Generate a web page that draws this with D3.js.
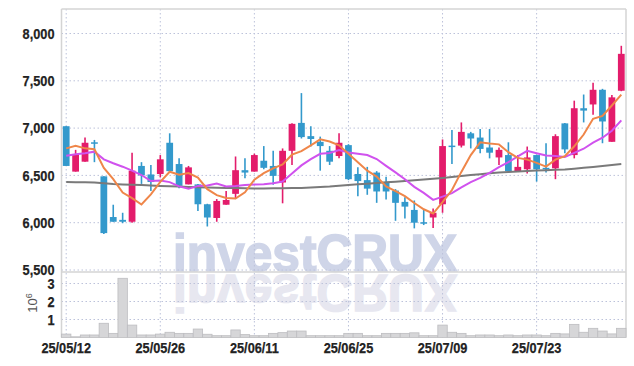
<!DOCTYPE html>
<html>
<head>
<meta charset="utf-8">
<script src="https://cdn.jsdelivr.net/npm/d3@7"></script>
<style>
body { margin: 0; background: #fff; }
svg { display: block; font-family: "Liberation Sans", Arial, sans-serif; }
</style>
</head>
<body>
<svg width="634" height="366"></svg>
<script>
// trading days shown (yy/mm/dd)
var dates = ["25/05/12","25/05/13","25/05/14","25/05/15","25/05/16","25/05/19","25/05/20","25/05/21","25/05/22","25/05/23",
  "25/05/26","25/05/27","25/05/28","25/05/29","25/05/30","25/06/02","25/06/04","25/06/05","25/06/09","25/06/10",
  "25/06/11","25/06/12","25/06/13","25/06/16","25/06/17","25/06/18","25/06/19","25/06/20","25/06/23","25/06/24",
  "25/06/25","25/06/26","25/06/27","25/06/30","25/07/01","25/07/02","25/07/03","25/07/04","25/07/07","25/07/08",
  "25/07/09","25/07/10","25/07/11","25/07/14","25/07/15","25/07/16","25/07/17","25/07/18","25/07/21","25/07/22",
  "25/07/23","25/07/24","25/07/25","25/07/28","25/07/29","25/07/30","25/07/31","25/08/01","25/08/04","25/08/05"];

var open  = [7020,6540,6645,6850,6490,6060,6030,6010,6600,6510, 6515,6845,6620,6405,6405,6195,6050,6190,6305,6555,
             6540,6655,6600,6425,6760,7055,6915,6855,6760,6705, 6820,6515,6450,6530,6425,6340,6220,6135,6005,6055,
             6195,6815,6815,6945,6900,6795,6690,6715,6545,6565, 6715,6580,6575,7050,6715,7210,7250,7405,6855,7395];
var high  = [7020,6770,6900,6875,6490,6190,6105,6740,6640,6610, 6715,6945,6680,6600,6410,6200,6250,6335,6700,6680,
             6730,6810,6760,6785,7050,7370,7020,6910,6810,6945, 6830,6585,6590,6545,6485,6355,6270,6235,6135,6150,
             6880,6980,7060,6960,6990,6990,6795,6850,6715,6805, 6720,6840,6935,7055,7290,7355,7480,7415,7350,7870];
var low   = [6600,6540,6645,6640,5880,6010,5995,6000,6410,6335, 6480,6530,6365,6405,6125,5960,6010,6190,6250,6470,
             6540,6565,6400,6205,6610,6890,6805,6550,6610,6680, 6450,6280,6295,6210,6245,6020,6045,5940,5975,5945,
             6105,6620,6795,6785,6735,6680,6610,6540,6540,6520, 6435,6530,6460,6735,6680,7060,7140,6840,6855,7390];
var close = [6600,6720,6845,6840,5890,6010,6010,6550,6500,6430, 6670,6545,6390,6585,6195,6055,6230,6240,6555,6530,
             6715,6580,6495,6760,7045,6905,6885,6810,6645,6845, 6460,6440,6360,6330,6330,6210,6170,6000,6000,6105,
             6810,6810,6960,6890,6780,6740,6770,6545,6590,6690, 6565,6575,6915,6775,7210,7185,7405,7070,7325,7785];

// volume, millions of shares
var volume = [0.19,0.04,0.14,0.14,0.79,0.23,3.29,0.69,0.14,0.14, 0.19,0.29,0.23,0.23,0.47,0.18,0.1,0.1,0.42,0.16,
              0.1,0.1,0.23,0.27,0.36,0.36,0.1,0.1,0.1,0.1, 0.23,0.23,0.1,0.1,0.23,0.23,0.23,0.26,0.1,0.1,
              0.69,0.29,0.23,0.1,0.14,0.14,0.1,0.14,0.1,0.14, 0.14,0.1,0.23,0.2,0.73,0.29,0.51,0.36,0.2,0.51];

// moving averages as drawn
var ma5  = [6786,6814,6786,6776,6579,6461,6319,6260,6192,6300, 6432,6539,6507,6524,6477,6354,6291,6261,6255,6322,
            6454,6524,6575,6616,6719,6757,6818,6881,6858,6818, 6729,6640,6550,6487,6384,6334,6280,6208,6142,6097,
            6217,6345,6537,6715,6850,6836,6828,6745,6685,6667, 6632,6593,6667,6704,6808,6932,7098,7129,7239,7354];
var ma10 = [6708,6723,6733,6751,6670,6628,6592,6550,6504,6440, 6447,6429,6384,6358,6389,6393,6415,6384,6389,6399,
            6404,6407,6418,6435,6520,6606,6671,6728,6737,6769, 6743,6729,6716,6673,6601,6532,6460,6379,6315,6241,
            6276,6313,6373,6429,6474,6527,6587,6641,6700,6759, 6734,6711,6706,6695,6738,6782,6846,6898,6972,7081];
var ma60 = [6430,6428,6427,6425,6418,6409,6405,6402,6399,6393, 6388,6385,6382,6378,6375,6372,6370,6368,6366,6364,
            6362,6362,6363,6364,6366,6367,6372,6378,6383,6391, 6399,6406,6413,6420,6427,6434,6441,6449,6457,6465,
            6473,6483,6494,6504,6513,6522,6531,6536,6541,6547, 6552,6555,6559,6562,6571,6580,6589,6599,6610,6620];

var priceTicks = [5500, 6000, 6500, 7000, 7500, 8000];
var volTicks = [1, 2, 3];
var dateTicks = ["25/05/12", "25/05/26", "25/06/11", "25/06/25", "25/07/09", "25/07/23"];

var svg = d3.select("svg"),
    plotL = 61.5, plotR = 626,
    plotT = 9, split = 272, plotB = 337.5;

var x = d3.scaleBand().domain(dates).range([plotL, plotR]).padding(0),
    y = d3.scaleLinear().domain([5500, 8000]).range([270, 33.5]),
    yv = d3.scaleLinear().domain([0, 3.64]).range([plotB, split]);

var up = "#e31c6b", down = "#3399cc";
var grid = "#bcc2da";

// watermark and its reflection
var wm = svg.append("g").attr("font-weight", "bold").attr("font-size", 52).attr("stroke-width", 1.6);
wm.append("text").attr("x", 173).attr("y", 270.5).attr("textLength", 284).attr("lengthAdjust", "spacingAndGlyphs")
  .attr("fill", "#cfd5e8").attr("stroke", "#cfd5e8").text("investCRUX");
wm.append("text").attr("x", 173).attr("y", 270.5).attr("textLength", 284).attr("lengthAdjust", "spacingAndGlyphs")
  .attr("transform", "translate(0," + (2 * split + 1) + ") scale(1,-1)")
  .attr("fill", "#e7e7f0").attr("stroke", "#e7e7f0").text("investCRUX");

// dotted grid
var g = svg.append("g").attr("stroke", grid).attr("stroke-dasharray", "1.5,2.5").attr("stroke-width", 1);
g.selectAll(".hp").data(priceTicks).enter().append("line")
  .attr("x1", plotL).attr("x2", plotR)
  .attr("y1", function(d) { return y(d); }).attr("y2", function(d) { return y(d); });
g.selectAll(".hv").data(volTicks).enter().append("line")
  .attr("x1", plotL).attr("x2", plotR)
  .attr("y1", function(d) { return yv(d); }).attr("y2", function(d) { return yv(d); });
g.selectAll(".vx").data(dateTicks).enter().append("line")
  .attr("y1", plotT).attr("y2", plotB)
  .attr("x1", function(d) { return x(d) + x.bandwidth() / 2; })
  .attr("x2", function(d) { return x(d) + x.bandwidth() / 2; });

// frame
var frame = svg.append("g").attr("stroke", "#d4d4d4").attr("stroke-width", 1.5);
frame.append("line").attr("x1", plotL).attr("x2", plotR).attr("y1", plotT).attr("y2", plotT);
frame.append("line").attr("x1", plotL).attr("x2", plotR).attr("y1", split).attr("y2", split);
frame.append("line").attr("x1", plotL).attr("x2", plotL).attr("y1", plotT).attr("y2", plotB);
frame.append("line").attr("x1", plotR).attr("x2", plotR).attr("y1", plotT).attr("y2", plotB);

// volume bars
svg.append("g").selectAll("rect").data(dates).enter().append("rect")
  .attr("x", function(d) { return x(d); })
  .attr("width", x.bandwidth())
  .attr("y", function(d, i) { return yv(volume[i]); })
  .attr("height", function(d, i) { return plotB - yv(volume[i]); })
  .attr("fill", "#d6d6d8").attr("stroke", "#bdbdc0").attr("stroke-width", 0.8);

// candles
var bw = x.bandwidth() * 0.72;
var c = svg.append("g").selectAll("g").data(dates).enter().append("g")
  .attr("transform", function(d) { return "translate(" + (x(d) + x.bandwidth() / 2) + ",0)"; });
c.append("line")
  .attr("y1", function(d, i) { return y(high[i]); })
  .attr("y2", function(d, i) { return y(low[i]); })
  .attr("stroke", function(d, i) { return close[i] >= open[i] ? up : down; })
  .attr("stroke-width", 1.6);
c.append("rect")
  .attr("x", -bw / 2).attr("width", bw)
  .attr("y", function(d, i) { return y(Math.max(open[i], close[i])); })
  .attr("height", function(d, i) { return Math.max(1.5, Math.abs(y(open[i]) - y(close[i]))); })
  .attr("fill", function(d, i) { return close[i] >= open[i] ? up : down; });

// moving averages
function maLine(vals) {
  return d3.line()
    .x(function(d) { return x(d) + x.bandwidth() / 2; })
    .y(function(d, i) { return y(vals[i]); })(dates);
}
svg.append("path").attr("d", maLine(ma60)).attr("fill", "none").attr("stroke", "#7a7a7a").attr("stroke-width", 2);
svg.append("path").attr("d", maLine(ma10)).attr("fill", "none").attr("stroke", "#d052ee").attr("stroke-width", 2);
svg.append("path").attr("d", maLine(ma5)).attr("fill", "none").attr("stroke", "#ef8649").attr("stroke-width", 2);

// axes: condensed bold labels
function styleAxis(sel) {
  sel.select(".domain").remove();
  sel.selectAll("text").attr("fill", "#222").attr("font-size", 15).attr("font-weight", "bold")
    .attr("font-family", "'Liberation Sans', Arial, sans-serif")
    .attr("stroke", "#222").attr("stroke-width", 0.25)
    .each(function() {
      var w = this.getComputedTextLength();
      d3.select(this).attr("textLength", w * 0.85).attr("lengthAdjust", "spacingAndGlyphs");
    });
}
svg.append("g").attr("transform", "translate(" + plotL + ",0)")
  .call(d3.axisLeft(y).tickValues(priceTicks).tickSize(0).tickPadding(7).tickFormat(d3.format(",")))
  .call(styleAxis);
svg.append("g").attr("transform", "translate(" + plotL + ",0)")
  .call(d3.axisLeft(yv).tickValues(volTicks).tickSize(0).tickPadding(7).tickFormat(d3.format("d")))
  .call(styleAxis);
svg.append("g").attr("transform", "translate(0," + plotB + ")")
  .call(d3.axisBottom(x).tickValues(dateTicks).tickSize(0).tickPadding(5))
  .call(styleAxis);

// volume unit
var unit = svg.append("text").attr("transform", "translate(37,303) rotate(-90)")
  .attr("text-anchor", "middle").attr("fill", "#555").attr("font-size", 13);
unit.append("tspan").text("10");
unit.append("tspan").attr("dy", -5).attr("font-size", 9).text("6");
</script>
</body>
</html>
